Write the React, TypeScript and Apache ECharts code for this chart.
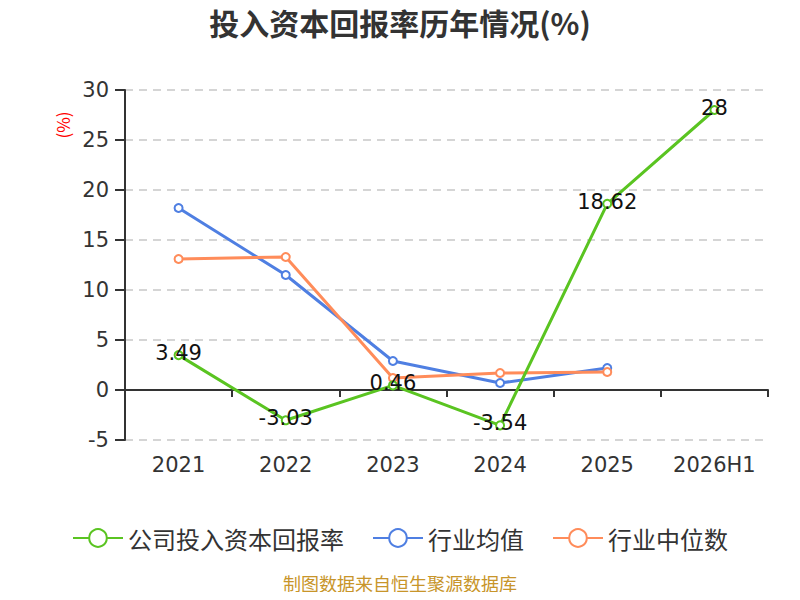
import React, { useEffect, useRef } from "react";
import * as echarts from "echarts";

const categories = ["2021", "2022", "2023", "2024", "2025", "2026H1"];
const companyValues = [3.49, -3.03, 0.46, -3.54, 18.62, 28];
const industryMean = [18.2, 11.5, 2.9, 0.7, 2.2, null];
const industryMedian = [13.1, 13.3, 1.2, 1.7, 1.8, null];

export default function App() {
  const ref = useRef<HTMLDivElement>(null);
  useEffect(() => {
    const chart = echarts.init(ref.current!, null, { renderer: "svg" });
    const font = "'Noto Sans CJK SC', 'Noto Sans', sans-serif";
    const numFont = "'DejaVu Sans', sans-serif";
    chart.setOption({
      animation: false,
      textStyle: { fontFamily: font },
      title: {
        text: "投入资本回报率历年情况(%)",
        left: "center",
        top: 2,
        textStyle: { fontSize: 30, fontWeight: "bold", color: "#333", fontFamily: font },
      },
      graphic: [
        {
          type: "text",
          left: "center",
          top: 574,
          style: { text: "制图数据来自恒生聚源数据库", fill: "#c8952a", fontSize: 18, fontFamily: font },
        },
        {
          type: "text",
          x: 62,
          y: 125,
          rotation: Math.PI / 2,
          style: {
            text: "(%)",
            fill: "#ff0000",
            fontSize: 17,
            fontFamily: font,
            align: "center",
            verticalAlign: "middle",
          },
        },
      ],
      legend: {
        bottom: 45,
        left: "center",
        itemWidth: 50,
        itemHeight: 22,
        itemGap: 28,
        textStyle: { fontSize: 24, color: "#333", fontFamily: font },
        data: ["公司投入资本回报率", "行业均值", "行业中位数"],
      },
      grid: { left: 125, right: 32, top: 90, bottom: 160 },
      xAxis: {
        type: "category",
        data: categories,
        boundaryGap: true,
        axisLine: { onZero: true, lineStyle: { color: "#333", width: 2 } },
        axisTick: { show: true, interval: 0, length: 7, lineStyle: { color: "#333", width: 2 } },
        axisLabel: { interval: 0, fontSize: 21, color: "#333", margin: 14, fontFamily: numFont },
      },
      yAxis: {
        type: "value",
        min: -5,
        max: 30,
        interval: 5,
        axisLine: { show: true, lineStyle: { color: "#333", width: 2 } },
        axisTick: { show: true, length: 10, lineStyle: { color: "#333", width: 2 } },
        axisLabel: { fontSize: 21, color: "#333", margin: 16, fontFamily: numFont },
        splitLine: { show: true, lineStyle: { type: [8, 6], color: "#c8c8c8", width: 1.5 } },
      },
      series: [
        {
          name: "公司投入资本回报率",
          type: "line",
          data: companyValues,
          symbol: "emptyCircle",
          symbolSize: 8,
          itemStyle: { color: "#5ac421" },
          lineStyle: { width: 3, color: "#5ac421" },
          label: {
            show: true,
            position: "inside",
            fontSize: 21,
            color: "#111",
            fontFamily: numFont,
            offset: [0, -2],
          },
          z: 3,
        },
        {
          name: "行业均值",
          type: "line",
          data: industryMean,
          symbol: "emptyCircle",
          symbolSize: 8,
          itemStyle: { color: "#4f7fe2" },
          lineStyle: { width: 3, color: "#4f7fe2" },
          z: 2,
        },
        {
          name: "行业中位数",
          type: "line",
          data: industryMedian,
          symbol: "emptyCircle",
          symbolSize: 8,
          itemStyle: { color: "#ff8c5a" },
          lineStyle: { width: 3, color: "#ff8c5a" },
          z: 2,
        },
      ],
    });
    return () => chart.dispose();
  }, []);
  return <div ref={ref} style={{ width: 800, height: 600, margin: -8 }} />;
}
